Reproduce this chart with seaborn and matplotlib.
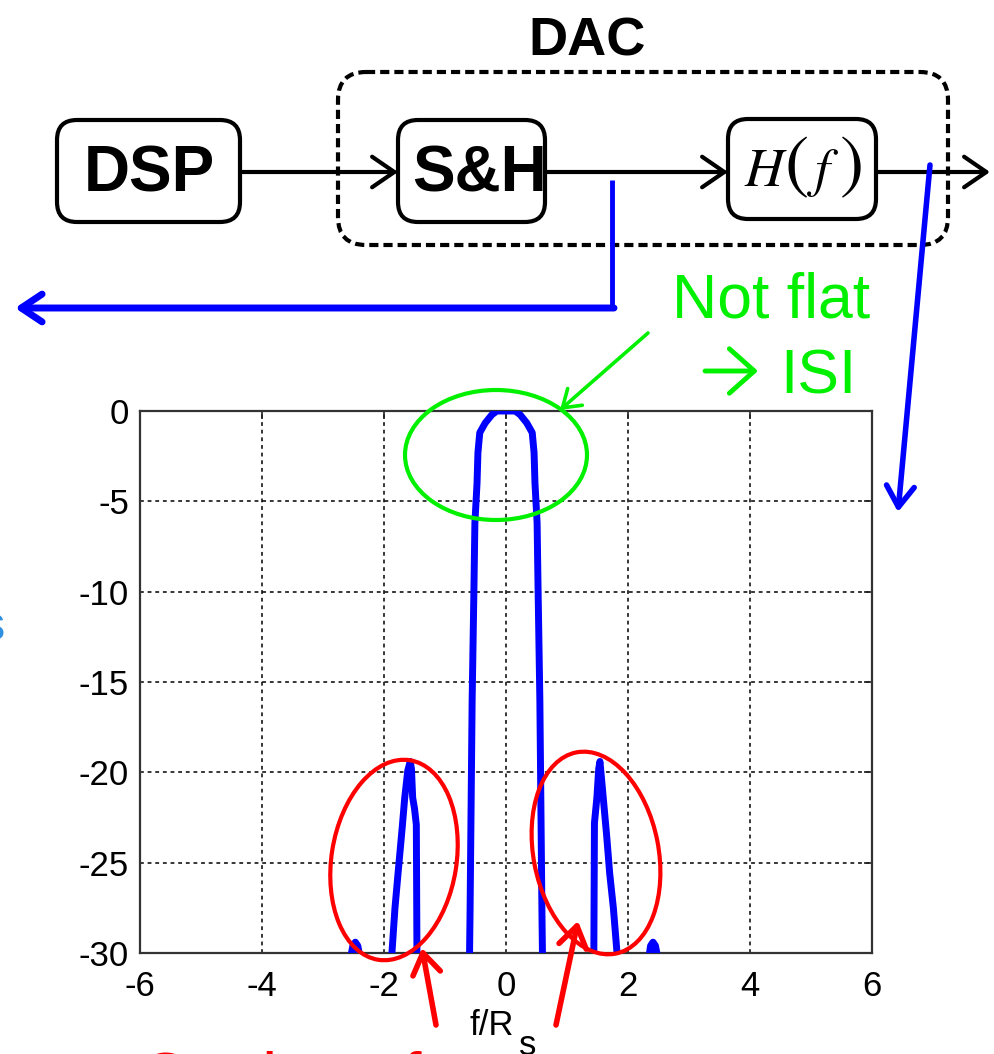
import numpy as np
import pandas as pd
import matplotlib
matplotlib.use("Agg")
import matplotlib.pyplot as plt
import seaborn as sns
from matplotlib.patches import FancyBboxPatch, Ellipse

sns.set_theme(style="white")
plt.rcParams['font.family'] = ['Liberation Sans', 'DejaVu Sans']
plt.rcParams['mathtext.fontset'] = 'stix'
plt.rcParams['text.color'] = 'black'
plt.rcParams['axes.labelcolor'] = 'black'

# Normalised frequency f/Rs of the DAC output spectrum
freq_norm = [
    -6.0, -2.60, -2.55, -2.51, -2.47, -2.43, -2.39, -2.35,
    -1.92, -1.88, -1.82, -1.77, -1.70, -1.66, -1.61, -1.57, -1.55, -1.53, -1.50, -1.47, -1.46, -1.44,
    -0.62, -0.59, -0.555, -0.525, -0.51, -0.475, -0.46, -0.43, -0.34, -0.23, -0.15, 0.0,
    0.15, 0.23, 0.34, 0.43, 0.46, 0.475, 0.51, 0.525, 0.555, 0.59, 0.62,
    1.42, 1.44, 1.45, 1.49, 1.52, 1.54, 1.57, 1.61, 1.65, 1.70, 1.76, 1.82, 1.86,
    2.30, 2.34, 2.37, 2.41, 2.45, 2.49, 2.55, 6.0,
]
# Output level in dB at each frequency
level_db = [
    -40.0, -31.5, -30.3, -29.6, -29.4, -29.6, -30.3, -31.5,
    -34.0, -30.5, -27.5, -25.6, -23.0, -21.4, -19.9, -19.4, -19.8, -21.4, -22.0, -22.9, -30.0, -34.0,
    -36.0, -28.0, -16.0, -9.7, -6.2, -4.0, -2.3, -1.2, -0.66, -0.2, 0.0, 0.0,
    0.0, -0.2, -0.66, -1.2, -2.3, -4.0, -6.2, -9.7, -16.0, -28.0, -36.0,
    -34.0, -30.0, -22.8, -21.4, -19.8, -19.4, -20.5, -22.0, -23.5, -25.6, -27.5, -30.0, -33.0,
    -31.5, -30.3, -29.6, -29.4, -29.6, -30.3, -31.5, -40.0,
]

x_ticks = [-6, -4, -2, 0, 2, 4, 6]
y_ticks = [0, -5, -10, -15, -20, -25, -30]

W, H = 994, 1054
fig = plt.figure(figsize=(W / 100, H / 100), dpi=100)
fig.patch.set_facecolor("white")

# Spectrum axes
ax = fig.add_axes([140 / W, 1 - 953 / H, (872 - 140) / W, (953 - 411) / H])
df = pd.DataFrame({"f": freq_norm, "dB": level_db})
sns.lineplot(data=df, x="f", y="dB", ax=ax, color="#0000ff", lw=5,
             sort=False, estimator=None, zorder=3)
ax.set_xlim(-6, 6)
ax.set_ylim(-30, 0)
ax.set_xticks(x_ticks)
ax.set_yticks(y_ticks)
ax.set_xticklabels([str(v) for v in x_ticks])
ax.set_yticklabels([str(v) for v in y_ticks])
ax.grid(True, color="black", linestyle=(0, (2.5, 2.5)), lw=1.1)
ax.tick_params(direction="in", length=6, width=1.2, labelsize=25, top=True, right=True,
               colors="#222222", labelcolor="black")
ax.tick_params(axis="x", pad=12)
ax.tick_params(axis="y", pad=8)
for s in ax.spines.values():
    s.set_color("#333333")
    s.set_linewidth(1.6)
ax.set_ylabel("")
ax.set_xlabel("f/R", fontsize=25)
ax.xaxis.set_label_coords((492 - 140) / (872 - 140), -(1035 - 953) / (953 - 411))
ax.xaxis.label.set_verticalalignment("baseline")

# Block diagram and annotations, drawn in pixel units over the whole figure
ov = fig.add_axes([0, 0, 1, 1], zorder=5)
ov.set_xlim(0, W)
ov.set_ylim(H, 0)
ov.axis("off")
ov.patch.set_alpha(0)

# Subscript of the frequency axis label
ov.text(519, 1055, "s", fontsize=25, ha="left", va="baseline")

def rbox(x0, y0, x1, y1, r, **kw):
    ov.add_patch(FancyBboxPatch((x0, y0), x1 - x0, y1 - y0,
                                boxstyle=f"round,pad=0,rounding_size={r}",
                                fill=False, **kw))

# DAC enclosure
rbox(338, 72, 948, 245, 28, ec="black", lw=3, linestyle=(0, (2.2, 1.2)))
ov.text(587, 42, "DAC", fontsize=39, fontweight="bold", ha="center", va="center")

# Blocks
rbox(57, 120, 240, 222, 20, ec="black", lw=3)
rbox(398, 120, 545, 222, 20, ec="black", lw=3)
rbox(728, 119, 876, 219, 20, ec="black", lw=3)
ov.text(149, 174, "DSP", fontsize=46, fontweight="bold", ha="center", va="center")
ov.text(480, 174, "S&H", fontsize=46, fontweight="bold", ha="center", va="center")
# H(f) with tall brackets
ov.text(766, 186, "$H$", fontsize=39, ha="center", va="baseline")
ov.text(797, 169, "(", fontsize=52, family="STIXGeneral", ha="center", va="center")
ov.text(823, 186, "$f$", fontsize=39, ha="center", va="baseline")
ov.text(852, 169, ")", fontsize=52, family="STIXGeneral", ha="center", va="center")

arrow_k = dict(arrowstyle="->,head_length=0.8,head_width=0.55", lw=3,
               color="black", mutation_scale=20, shrinkA=0, shrinkB=0)
ov.annotate("", xy=(398, 172), xytext=(240, 172), arrowprops=arrow_k)
ov.annotate("", xy=(728, 172), xytext=(545, 172), arrowprops=arrow_k)
ov.annotate("", xy=(990, 172), xytext=(876, 172), arrowprops=arrow_k)

# Blue pointers
ov.plot([612, 612], [180, 308], color="#0000ff", lw=3.5, solid_capstyle="butt")
ov.annotate("", xy=(15, 308), xytext=(614, 308),
            arrowprops=dict(arrowstyle="->,head_length=0.75,head_width=0.5", lw=5,
                            color="#0000ff", mutation_scale=20, shrinkA=0, shrinkB=0))
ov.annotate("", xy=(898, 512), xytext=(930, 165),
            arrowprops=dict(arrowstyle="->,head_length=0.75,head_width=0.5", lw=4,
                            color="#0000ff", mutation_scale=20, shrinkA=0, shrinkB=0))

# Green remark on the passband droop
green = "#00f000"
ov.text(870, 318, "Not flat", fontsize=45, color=green, ha="right", va="baseline")
ov.text(857, 393, "ISI", fontsize=45, color=green, ha="right", va="baseline")
ov.annotate("", xy=(758, 371), xytext=(705, 371),
            arrowprops=dict(arrowstyle="->,head_length=0.9,head_width=0.8", lw=3.5,
                            color=green, mutation_scale=20, shrinkA=0, shrinkB=0))
ov.annotate("", xy=(560, 410), xytext=(648, 333),
            arrowprops=dict(arrowstyle="->,head_length=0.6,head_width=0.4", lw=2.6,
                            color=green, mutation_scale=20, shrinkA=0, shrinkB=0))
ov.add_patch(Ellipse((496, 455), 182, 130, fill=False, ec=green, lw=3))

# Red marks on the spectral copies
red = "#ff0000"
ov.add_patch(Ellipse((394, 860), 125, 202, angle=9, fill=False, ec=red, lw=3))
ov.add_patch(Ellipse((596, 853), 125, 205, angle=-11, fill=False, ec=red, lw=3))
red_k = dict(arrowstyle="->,head_length=0.75,head_width=0.5", lw=4, color=red,
             mutation_scale=20, shrinkA=0, shrinkB=0)
ov.annotate("", xy=(422, 948), xytext=(436, 1025), arrowprops=red_k)
ov.annotate("", xy=(578, 921), xytext=(556, 1025), arrowprops=red_k)
ov.text(140, 1051, "Copies of spectrum", fontsize=48, color=red,
        ha="left", va="top")

# Text continuing past the left edge
ov.text(5, 628, "s", fontsize=35, color="#3090e0", ha="right", va="center")

fig.savefig("out.png", dpi=100, facecolor="white")
